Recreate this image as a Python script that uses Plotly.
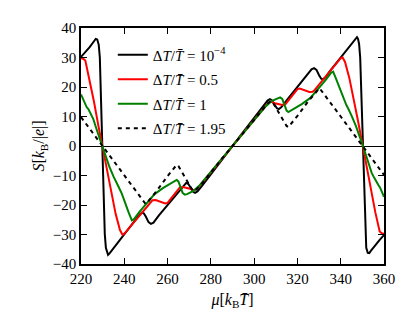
import plotly.graph_objects as go

# Seebeck coefficient S vs chemical potential mu, for several dT/T ratios

# dT/T = 1e-4
mu_a = [220, 222, 224, 226, 226.8, 227.5, 228.2, 228.7, 229.1, 229.5, 229.8,
        230.2, 230.6, 231.0, 231.5, 232.0, 232.5, 233.2, 235, 240, 245, 247,
        248.2, 249, 250, 251.2, 252.3, 253.5, 256, 260, 265, 267.5, 268.6,
        269.5, 270.8, 272.0, 272.7, 273.8, 276, 280, 285, 290,
        295, 300, 304, 306.2, 307.3, 308, 309.2, 310.5, 311.4, 312.5, 315,
        320, 324, 326.5, 327.7, 328.8, 330, 331, 331.8, 333, 335, 340, 345,
        346.8, 347.5, 348, 348.5, 349, 349.4, 349.8, 350.2, 350.5, 350.9,
        351.3, 351.8, 352.5, 353.2, 354, 356, 358, 360]
s_a = [30.2, 31.8, 33.5, 35.5, 36.3, 36.1, 34.3, 30, 20, 7, 0,
       -8, -20, -30, -34.5, -36.3, -36.9, -36.4, -34.7, -30, -25.4, -23.3,
       -22.6, -22.8, -24, -25.8, -26.4, -26.0, -23.5, -19.9, -15.5, -13.1, -12.5,
       -12.8, -14.3, -15.6, -15.9, -15.4, -13.4, -9.5, -4.8, 0,
       4.8, 9.5, 13.4, 15.4, 15.9, 15.6, 14.3, 12.8, 12.5, 13.1, 15.5,
       19.9, 23.5, 26.0, 26.4, 25.8, 24, 22.8, 22.6, 23.3, 25.4, 30, 34.7,
       36.4, 36.9, 36.3, 34.5, 30, 20, 8, 0, -7, -20,
       -30, -34.5, -36.2, -36.3, -35.5, -33.5, -31.8, -30.2]

# dT/T = 0.5
mu_b = [220, 221, 222, 224, 226, 228, 229.8, 232, 234, 236, 238, 239.2, 240.2,
        245, 250, 252, 253, 254.5, 256.5, 258.9, 260, 262, 264, 265.5, 267,
        268.5, 270.4, 272, 273, 275, 280, 285, 290,
        295, 300, 305, 307, 308, 309.6, 311.5, 313, 314.5, 316, 318, 320,
        321.1, 323.5, 325.5, 327, 328, 330, 335, 339.8, 340.8, 342, 344,
        346, 348, 350.2, 352, 354, 356, 358, 359, 360]
s_b = [29.8, 29.6, 29.0, 22.5, 15, 7, 0, -8.5, -16, -23, -28.5, -30.1, -29.6,
       -25.3, -20.8, -19, -18.4, -18.3, -18.8, -19.5, -19.3, -17.5, -15.5, -14.2, -13.9,
       -14.1, -14.5, -15, -14.8, -13.3, -9.0, -4.5, 0,
       4.5, 9.0, 13.3, 14.8, 15.0, 14.5, 14.1, 13.9, 14.2, 15.5, 17.5, 19.3,
       19.5, 18.8, 18.3, 18.4, 19.0, 20.8, 25.3, 29.6, 30.1, 28.5, 23,
       16, 8.5, 0, -7, -15, -22.5, -29.0, -29.6, -29.8]

# dT/T = 1
mu_c = [220, 221, 221.8, 222.6, 223.4, 224.5, 225.7, 227.5, 229.7, 231, 233,
        235, 235.8, 236.6, 237.4, 238.9, 240.4, 242, 243.5, 244.5, 247, 250,
        254, 258, 262, 264.2, 265, 266, 267, 268, 269, 272, 275, 280, 285, 290,
        295, 300, 305, 308, 311, 312, 313, 314, 315, 315.8, 318, 322, 326,
        330, 333, 335.5, 336.5, 338, 339.6, 341.1, 342.6, 343.4, 344.2, 345,
        347, 349, 350.3, 352.5, 354.3, 355.5, 356.6, 357.4, 358.2, 359, 360]
s_c = [17.5, 15.6, 14.1, 13.2, 12.5, 10.8, 9.1, 5, 0, -2.8, -6.8,
       -10.3, -11.7, -12.8, -13.9, -16.2, -19.5, -22.5, -25.2, -24.8, -22.3, -19.6,
       -16.3, -14.2, -12.4, -11.5, -12, -14.2, -16, -16.5, -16.3, -15.2, -13.2, -8.8, -4.4, 0,
       4.4, 8.8, 13.2, 15.2, 16.3, 16.5, 16, 14.2, 12, 11.5, 12.4, 14.2, 16.3,
       19.6, 22.3, 24.8, 25.2, 22.5, 19.5, 16.2, 13.9, 12.8, 11.7, 10.3,
       6.8, 2.8, 0, -5, -9.1, -10.8, -12.5, -13.2, -14.1, -15.6, -17.2]

# dT/T = 1.95
mu_d = [220, 229.8, 240, 249.8, 250.5, 255, 260, 264.2, 265, 268, 271.2, 272.2,
        273.5, 276, 280, 285, 290,
        295, 300, 304, 306.5, 307.8, 308.8, 312, 315, 315.8, 320, 325, 329.5,
        330.2, 340, 350.2, 360]
s_d = [9.8, 0, -10, -19.6, -19.3, -15.2, -10.2, -6.4, -6.8, -10.5, -14.6, -15.3,
       -14.6, -12.6, -8.8, -4.4, 0,
       4.4, 8.8, 12.6, 14.6, 15.3, 14.6, 10.5, 6.8, 6.4, 10.2, 15.2, 19.3,
       19.6, 10, 0, -9.8]

legend_names = ['Δ<i>T</i>/<i>T̄</i> = 10<sup>−4</sup>',
                'Δ<i>T</i>/<i>T̄</i> = 0.5',
                'Δ<i>T</i>/<i>T̄</i> = 1',
                'Δ<i>T</i>/<i>T̄</i> = 1.95']

x_ticks = [220, 240, 260, 280, 300, 320, 340, 360]
y_ticks = [-40, -30, -20, -10, 0, 10, 20, 30, 40]

FONT = 'Liberation Serif'

fig = go.Figure()
series = [(mu_a, s_a, 'black', 'solid'),
          (mu_b, s_b, '#ff0000', 'solid'),
          (mu_c, s_c, '#008000', 'solid'),
          (mu_d, s_d, 'black', '4px,4px')]
for i, ((mx, sy, col, dash), name) in enumerate(zip(series, legend_names)):
    fig.add_trace(go.Scatter(
        x=mx, y=sy, mode='lines', name=name, legendgroup=f'g{i}',
        line=dict(color=col, width=2, dash=dash),
    ))

axis_common = dict(
    showline=True, linecolor='black', linewidth=1.5, mirror='ticks',
    ticks='inside', ticklen=6, tickwidth=1, tickcolor='black',
    showgrid=False, tickfont=dict(family=FONT, size=15, color='black'),
)

# page body adds an 8px offset, so the figure is a bit smaller than the window
fig.update_layout(
    width=407, height=324,
    paper_bgcolor='white', plot_bgcolor='white',
    font=dict(family=FONT, color='black'),
    margin=dict(l=73, r=31, t=17, b=68),
    showlegend=True,
    legend=dict(
        x=0.105, y=0.955, xanchor='left', yanchor='top',
        bgcolor='rgba(0,0,0,0)', borderwidth=0,
        font=dict(family=FONT, size=15, color='black'),
        traceorder='grouped', tracegroupgap=2,
    ),
    xaxis=dict(
        range=[220, 360], tickvals=x_ticks, zeroline=False,
        title=dict(text='<i>μ</i>[<i>k</i><sub>B</sub><i>T̄</i>]',
                   font=dict(family=FONT, size=16, color='black'), standoff=8),
        **axis_common,
    ),
    yaxis=dict(
        range=[-40, 40], tickvals=y_ticks,
        zeroline=True, zerolinecolor='black', zerolinewidth=1,
        title=dict(text='<i>S</i>[<i>k</i><sub>B</sub>/|<i>e</i>|]',
                   font=dict(family=FONT, size=16, color='black'), standoff=4),
        **axis_common,
    ),
)

fig.write_html("out.html")
